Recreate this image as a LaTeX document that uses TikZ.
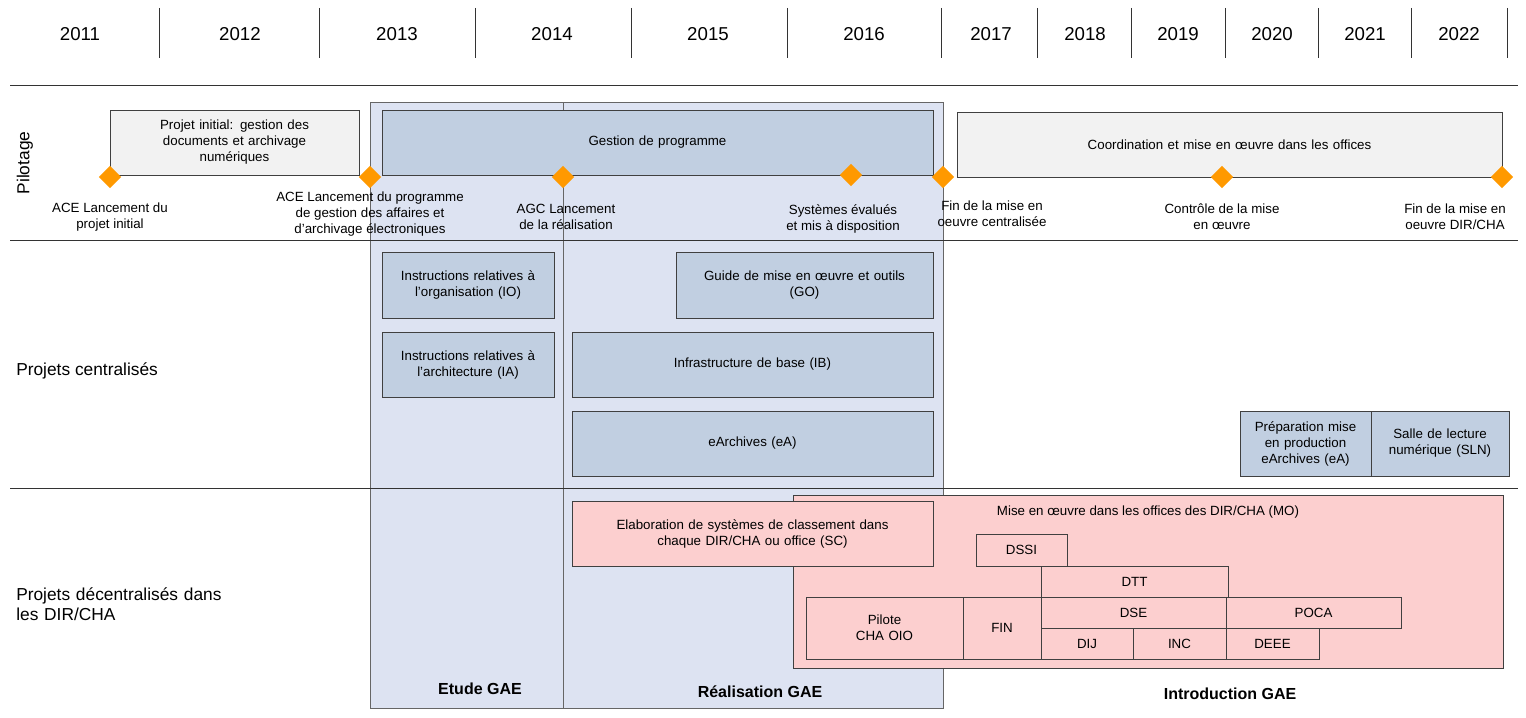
\documentclass[tikz,border=0pt]{standalone}
\usepackage{fontspec}
\setmainfont{Liberation Sans}
\usetikzlibrary{shapes.geometric}
\definecolor{bgblue}{HTML}{DDE3F2}
\definecolor{boxblue}{HTML}{C1CFE1}
\definecolor{boxgrey}{HTML}{F2F2F2}
\definecolor{boxpink}{HTML}{FCCFCF}
\definecolor{dia}{HTML}{FF9900}
\tikzset{
 bx/.style={draw=black!75,line width=0.6pt,inner sep=0pt,align=center,font=\fontsize{10}{12}\selectfont},
 dmd/.style={diamond,fill=dia,draw=none,minimum size=17pt,inner sep=0pt},
 lab/.style={align=center,font=\fontsize{10}{12}\selectfont,inner sep=0pt},
 yr/.style={font=\fontsize{14}{16}\selectfont},
 sep/.style={draw=black!80,line width=0.6pt},
 bigbg/.style={draw=black!60,fill=bgblue,line width=0.6pt},
 ttl/.style={font=\fontsize{13}{15}\selectfont,anchor=west,align=left,inner sep=0pt},
 phase/.style={font=\bfseries\fontsize{12}{14}\selectfont}
}
\newcommand{\bx}[7]{\node[bx,#6,minimum width={(#4-#2)*0.75pt},minimum height={(#5-#3)*0.75pt},text width={(#4-#2)*0.75pt-8pt}] (#1) at ({(#2+#4)/2},{(#3+#5)/2}) {#7};}
\begin{document}
\begin{tikzpicture}[x=0.75pt,y=-0.75pt]
\useasboundingbox (0,0) rectangle (1526,717);
% background phases
\draw[bigbg] (370,102) rectangle (563,708);
\draw[bigbg] (563,102) rectangle (943,708);
% years
\foreach \x in {159,319,475,631,787,941,1037,1131,1225,1318,1411,1507}
  \draw[sep] (\x,8) -- (\x,58);
\foreach \x/\y in {80/2011,240/2012,397/2013,552/2014,708/2015,864/2016,991/2017,1085/2018,1178/2019,1272/2020,1365/2021,1459/2022}
  \node[yr] (y\y) at (\x,34) {\y};
\draw[sep] (10,85) -- (1518,85);
\draw[sep] (10,240) -- (1518,240);
\draw[sep] (10,488) -- (1518,488);
% row titles
\node[rotate=90,font=\fontsize{13}{15}\selectfont] (pil) at (25,163) {Pilotage};
\node[ttl] (pc) at (16,371) {Projets centralisés};
\node[ttl,text width=300pt] (pd) at (16,604) {Projets décentralisés dans\\les DIR/CHA};
% pilotage boxes
\bx{pi}{110}{110}{359}{175}{fill=boxgrey}{Projet initial: gestion des\\documents et archivage\\numériques}
\bx{gp}{382}{110}{933}{175}{fill=boxblue}{Gestion de programme}
\bx{co}{957}{112}{1502}{177}{fill=boxgrey}{Coordination et mise en œuvre dans les offices}
% diamonds
\node[dmd] (d1) at (110,177) {};
\node[dmd] (d2) at (370,177) {};
\node[dmd] (d3) at (563,177) {};
\node[dmd] (d4) at (851,175) {};
\node[dmd] (d5) at (943,177) {};
\node[dmd] (d6) at (1222,177) {};
\node[dmd] (d7) at (1502,177) {};
\node[lab] (l1) at (110,217) {ACE Lancement du\\projet initial};
\node[lab] (l2) at (370,214) {ACE Lancement du programme\\de gestion des affaires et\\d’archivage électroniques};
\node[lab] (l3) at (566,217) {AGC Lancement\\de la réalisation};
\node[lab] (l4) at (843,219) {Systèmes évalués\\et mis à disposition};
\node[lab] (l5) at (992,214) {Fin de la mise en\\oeuvre centralisée};
\node[lab] (l6) at (1222,217) {Contrôle de la mise\\en œuvre};
\node[lab] (l7) at (1455,217) {Fin de la mise en\\oeuvre DIR/CHA};
% centralised
\bx{io}{382}{252}{554}{318}{fill=boxblue}{Instructions relatives à\\l’organisation (IO)}
\bx{go}{676}{252}{933}{318}{fill=boxblue}{Guide de mise en œuvre et outils\\(GO)}
\bx{ia}{382}{332}{554}{397}{fill=boxblue}{Instructions relatives à\\l’architecture (IA)}
\bx{ib}{572}{332}{933}{397}{fill=boxblue}{Infrastructure de base (IB)}
\bx{ea}{572}{411}{933}{476}{fill=boxblue}{eArchives (eA)}
\bx{pm}{1240}{411}{1371}{476}{fill=boxblue}{Préparation mise\\en production\\eArchives (eA)}
\bx{sl}{1371}{411}{1509}{476}{fill=boxblue}{Salle de lecture\\numérique (SLN)}
% decentralised
\bx{mo}{793}{495}{1503}{668}{fill=boxpink}{}
\node[lab] (mot) at (1148,512) {Mise en œuvre dans les offices des DIR/CHA (MO)};
\bx{sc}{572}{501}{933}{566}{fill=boxpink}{Elaboration de systèmes de classement dans\\chaque DIR/CHA ou office (SC)}
\bx{dssi}{976}{534}{1067}{566}{fill=boxpink}{DSSI}
\bx{dtt}{1041}{566}{1228}{597}{fill=boxpink}{DTT}
\bx{pil}{806}{597}{963}{659}{fill=boxpink}{Pilote\\CHA OIO}
\bx{fin}{963}{597}{1041}{659}{fill=boxpink}{FIN}
\bx{dse}{1041}{597}{1226}{628}{fill=boxpink}{DSE}
\bx{poca}{1226}{597}{1401}{628}{fill=boxpink}{POCA}
\bx{dij}{1041}{628}{1133}{659}{fill=boxpink}{DIJ}
\bx{inc}{1133}{628}{1226}{659}{fill=boxpink}{INC}
\bx{deee}{1226}{628}{1319}{659}{fill=boxpink}{DEEE}
% phases
\node[phase] (p1) at (480,689) {Etude GAE};
\node[phase] (p2) at (760,692) {Réalisation GAE};
\node[phase] (p3) at (1230,694) {Introduction GAE};
\end{tikzpicture}
\end{document}
